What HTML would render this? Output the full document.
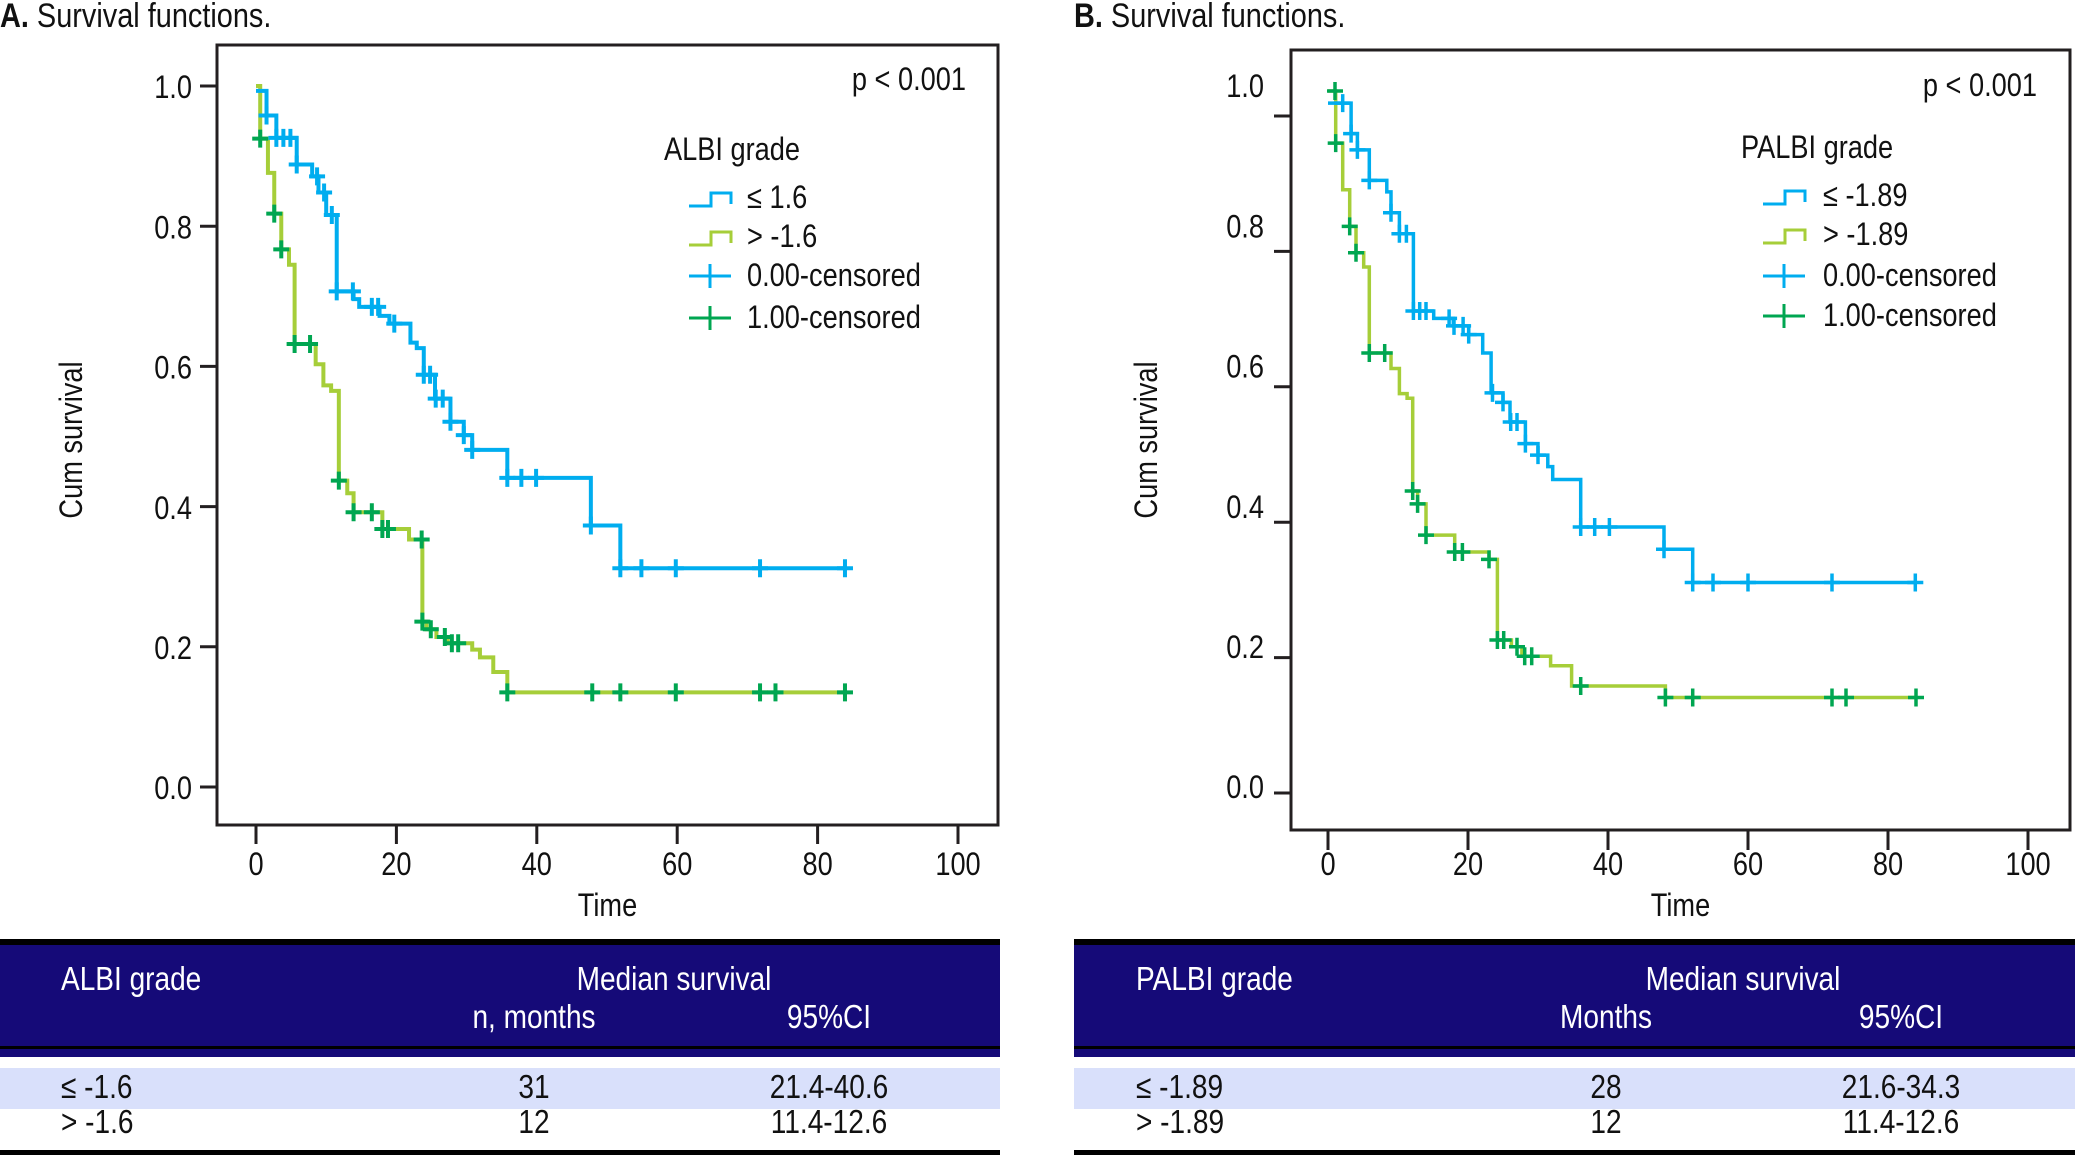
<!DOCTYPE html>
<html><head><meta charset="utf-8">
<style>
html,body{margin:0;padding:0;background:#fff;}
svg{display:block;}
text{font-family:"Liberation Sans",Arial,sans-serif;fill:#111;}
</style></head>
<body>
<svg id="fig" xmlns="http://www.w3.org/2000/svg" width="2075" height="1157" viewBox="0 0 2075 1157"></svg>
<script>
// ---- Chart A data (ALBI) ----
const aBlueTimes = [0,1.5,2.9,5.8,8.0,8.9,10.0,11.5,13.9,14.7,17.6,19.0,22.0,22.9,23.9,25.5,27.7,29.6,30.8,35.8,47.7,51.9];
const aBlueSurv  = [0.993,0.958,0.926,0.888,0.871,0.848,0.816,0.707,0.696,0.685,0.672,0.661,0.634,0.626,0.588,0.554,0.521,0.502,0.481,0.441,0.373,0.312];
const aBlueCens  = [1.5,2.9,3.9,4.9,5.8,8.7,9.7,10.8,11.5,13.8,16.5,17.4,19.7,23.9,24.8,25.6,26.6,27.7,29.6,30.8,35.8,37.8,39.9,47.7,51.9,54.9,59.8,71.8,83.9];
const aGreenTimes = [0,0.6,1.7,2.6,3.6,4.7,5.5,8.5,9.6,10.7,11.8,13.0,13.9,18.0,21.8,23.7,24.3,25.7,27.3,30.8,31.9,33.8,35.8];
const aGreenSurv  = [1.0,0.925,0.876,0.818,0.767,0.745,0.632,0.603,0.573,0.565,0.437,0.419,0.392,0.368,0.353,0.236,0.225,0.214,0.205,0.196,0.185,0.164,0.135];
const aGreenCens  = [0.6,2.6,3.6,5.5,7.7,11.8,13.9,16.5,18.0,18.8,23.6,23.7,24.9,26.9,27.9,28.8,35.8,47.9,51.9,59.8,71.8,74.0,83.9];
// ---- Chart B data (PALBI) ----
const bBlueTimes = [0,3.3,4.2,5.9,8.4,9.0,10.2,12.2,15.1,17.9,20.1,22.1,23.3,25.0,26.0,28.2,30.0,31.4,32.1,36.1,48.0,52.1];
const bBlueSurv  = [1.019,0.974,0.950,0.905,0.888,0.857,0.826,0.712,0.701,0.690,0.677,0.650,0.591,0.577,0.548,0.516,0.499,0.482,0.463,0.393,0.360,0.311];
const bBlueCens  = [2.1,3.3,4.2,5.9,9.0,10.2,11.2,12.2,13.1,14.0,17.3,18.0,19.3,20.1,23.5,25.0,26.1,27.0,28.2,30.0,36.1,38.1,40.2,48.0,52.1,55.0,60.0,72.0,83.9];
const bGreenTimes = [0,1.1,2.1,3.1,4.0,5.1,5.9,9.0,10.2,11.3,12.1,12.8,14.0,18.1,23.0,24.2,26.2,27.7,31.8,34.8,48.2];
const bGreenSurv  = [1.037,0.960,0.891,0.837,0.798,0.777,0.650,0.627,0.590,0.583,0.446,0.427,0.381,0.356,0.345,0.226,0.216,0.202,0.188,0.158,0.141];
const bGreenCens  = [1.0,1.1,3.1,4.0,5.9,8.1,12.1,12.8,14.0,18.1,19.2,23.0,24.2,25.1,27.0,28.1,29.1,36.1,48.2,52.1,72.0,74.0,84.0];
const endTime = 84;
const xTicks = [0,20,40,60,80,100];
const yTicks = [0,0.2,0.4,0.6,0.8,1.0];
const yTickLabels = ["0.0","0.2","0.4","0.6","0.8","1.0"];

const NS = "http://www.w3.org/2000/svg";
const svg = document.getElementById('fig');
const BLUE="#00adef", LIME="#a6ce39", DKG="#00a651", INK="#231f20";
function el(tag, attrs, parent){
  const e=document.createElementNS(NS,tag);
  for(const k in attrs) e.setAttribute(k,attrs[k]);
  (parent||svg).appendChild(e); return e;
}
function txt(str,x,y,size,anchor,sx,parent,weight){
  const g=el('g',{transform:`translate(${x},${y}) scale(${sx},1)`},parent);
  const t=el('text',{x:0,y:0,'font-size':size,'text-anchor':anchor||'start','dominant-baseline':'central'},g);
  if(weight) t.setAttribute('font-weight',weight);
  t.textContent=str; return t;
}
function survAt(times,surv,t){let v=surv[0];for(let i=0;i<times.length;i++){if(t>=times[i]-1e-9)v=surv[i];}return v;}

function drawChart(c){
  const X=t=>c.x0+t*c.xs, Y=v=>c.y0-v*c.ys, YL=v=>c.yl0-v*c.yls;
  const g=el('g',{});  
  const sx=0.85;
  const tg=el('g',{},g);  
  const tt=el('text',{x:c.titleX,y:c.titleY,'font-size':34,'dominant-baseline':'central',transform:`translate(${c.titleX*(1-sx)},0) scale(${sx},1)`},tg);
  const b=el('tspan',{'font-weight':'bold'},tt); b.textContent=c.letter+' ';
  const r=el('tspan',{},tt); r.textContent='Survival functions.';
  const fr=el('rect',{x:c.L,y:c.T,width:c.R-c.L,height:c.B-c.T,fill:'none',stroke:INK,'stroke-width':3},g);
   
  const ya=el('g',{},g);  
  yTicks.forEach((v,i)=>{
    el('line',{x1:c.L-17,x2:c.L,y1:Y(v),y2:Y(v),stroke:INK,'stroke-width':3},ya);
    txt(yTickLabels[i],c.ylabX,YL(v),32,'end',sx,ya);
  });
  const xa=el('g',{},g);  
  xTicks.forEach(v=>{
    el('line',{x1:X(v),x2:X(v),y1:c.B,y2:c.B+c.tickLen,stroke:INK,'stroke-width':3},xa);
    txt(String(v),X(v),865,32,'middle',sx,xa);
  });
  const xt=txt('Time',(c.L+c.R)/2,906,32,'middle',sx,g);
   
  const yg=el('g',{transform:`translate(${c.ylabelX},440) rotate(-90) scale(${sx},1)`},g);
   
  const yt=el('text',{x:0,y:0,'font-size':32,'text-anchor':'middle','dominant-baseline':'central'},yg); yt.textContent='Cum survival';
  function series(times,surv,cens,lineCol,censCol,name){
    let d=`M${X(times[0])},${Y(surv[0])}`;
    for(let i=1;i<times.length;i++){d+=` H${X(times[i])} V${Y(surv[i])}`;}
    d+=` H${X(endTime)}`;
    const p=el('path',{d:d,fill:'none',stroke:lineCol,'stroke-width':c.lw},g);
     
    const cg=el('g',{},g);  
    cens.forEach(t=>{
      const cx=X(t), cy=Y(survAt(times,surv,t));
      const m=el('path',{d:`M${cx-8},${cy} H${cx+8} M${cx},${cy-9} V${cy+9}`,stroke:censCol,'stroke-width':c.lw,fill:'none'},cg);
       
    });
  }
  series(c.gT,c.gS,c.gC,LIME,DKG,'high-grade');
  series(c.bT,c.bS,c.bC,BLUE,BLUE,'low-grade');
  const pv=txt('p < 0.001',c.pX,c.pY,32,'end',sx,g);
   
  const lg=el('g',{},g);  
  txt(c.legTitle,c.legTitleX,c.legY[0]-48,32,'start',sx,lg);
  const s0=c.symX, s1=c.symX+42;
  const items=[[c.legLabels[0],BLUE,'step'],[c.legLabels[1],LIME,'step'],['0.00-censored',BLUE,'plus'],['1.00-censored',DKG,'plus']];
  items.forEach((it,i)=>{
    const y=c.legY[i];
    const e=el('g',{},lg);  
    if(it[2]==='step') el('path',{d:`M${s0},${y+8} H${s0+22} V${y-5} H${s1} V${y+6}`,fill:'none',stroke:it[1],'stroke-width':3},e);
    else el('path',{d:`M${s0},${y} H${s1} M${(s0+s1)/2},${y-12} V${y+12}`,fill:'none',stroke:it[1],'stroke-width':3},e);
    txt(it[0],c.legTextX,y,32,'start',sx,e);
  });
  const tb=el('g',{},g);  
  el('rect',{x:c.tL,y:944,width:c.tR-c.tL,height:113,fill:'#150a78'},tb);
  el('rect',{x:c.tL,y:939,width:c.tR-c.tL,height:6,fill:'#000'},tb);
  el('rect',{x:c.tL,y:1046,width:c.tR-c.tL,height:3,fill:'#000'},tb);
  el('rect',{x:c.tL,y:1068,width:c.tR-c.tL,height:41,fill:'#d9e0fb'},tb);
  el('rect',{x:c.tL,y:1150,width:c.tR-c.tL,height:5,fill:'#000'},tb);
  const hs=[[c.head[0],c.colA,979,'start'],['Median survival',c.colM,979,'middle'],[c.head[1],c.colB,1017,'middle'],['95%CI',c.colC,1017,'middle']];
  hs.forEach(h=>{const t=txt(h[0],h[1],h[2],33,h[3],sx,tb);t.setAttribute('style','fill:#ffffff');});
  c.rows.forEach((row,i)=>{
    const y=1087+i*35;
    txt(row[0],c.colA,y,33,'start',sx,tb);
    txt(row[1],c.colB,y,33,'middle',sx,tb);
    txt(row[2],c.colC,y,33,'middle',sx,tb);
  });
}

drawChart({id:'panel-a',letter:'A.',titleX:0,titleY:15,
  L:217,R:998,T:45,B:825,x0:256,xs:7.02,y0:787,ys:701,yl0:789,yls:701,tickLen:19,lw:4,
  ylabX:192,ylabelX:72,pX:966,pY:80,legTitle:'ALBI grade',legTitleX:664,legY:[198,237,276,318],symX:689,legTextX:747,
  legLabels:['≤ 1.6','> -1.6'],
  bT:aBlueTimes,bS:aBlueSurv,bC:aBlueCens,gT:aGreenTimes,gS:aGreenSurv,gC:aGreenCens,
  tL:0,tR:1000,head:['ALBI grade','n, months'],colA:61,colM:674,colB:534,colC:829,
  rows:[['≤ -1.6','31','21.4-40.6'],['> -1.6','12','11.4-12.6']]});

drawChart({id:'panel-b',letter:'B.',titleX:1074,titleY:15,
  L:1291,R:2070,T:50,B:830,x0:1328,xs:7.0,y0:793,ys:677,yl0:788,yls:701,tickLen:20,lw:3.5,
  ylabX:1264,ylabelX:1147,pX:2037,pY:86,legTitle:'PALBI grade',legTitleX:1741,legY:[196,235,276,316],symX:1763,legTextX:1823,
  legLabels:['≤ -1.89','> -1.89'],
  bT:bBlueTimes,bS:bBlueSurv,bC:bBlueCens,gT:bGreenTimes,gS:bGreenSurv,gC:bGreenCens,
  tL:1074,tR:2075,head:['PALBI grade','Months'],colA:1136,colM:1743,colB:1606,colC:1901,
  rows:[['≤ -1.89','28','21.6-34.3'],['> -1.89','12','11.4-12.6']]});
</script>
</body></html>
